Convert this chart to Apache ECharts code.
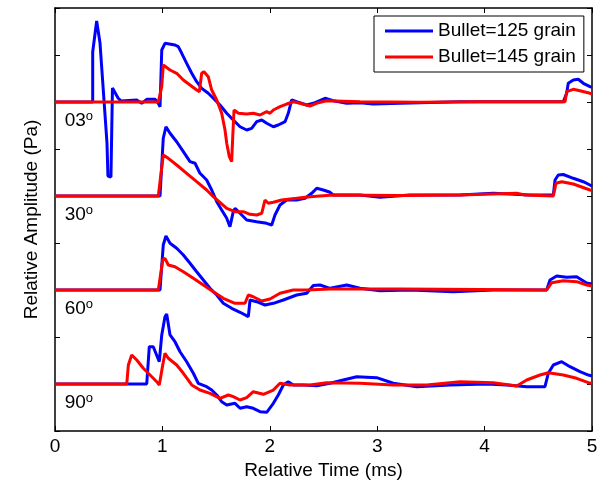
<!DOCTYPE html>
<html>
<head>
<meta charset="utf-8">
<script src="https://cdn.jsdelivr.net/npm/echarts@6/dist/echarts.min.js"></script>
<style>
html,body{margin:0;padding:0;background:#fff;}
#chart{width:600px;height:484px;}
</style>
</head>
<body>
<div id="chart"></div>
<script>
// ---- Data (time in ms, relative amplitude in axis units) ----
const seriesNames = ['Bullet=125 grain', 'Bullet=145 grain'];
const angleLabels = ['03', '30', '60', '90'];
const offsets = [7, 5, 3, 1];
const xTicks = [0, 1, 2, 3, 4, 5];

const blue03 = [[0,0],[0.351,0],[0.351,1.064],[0.388,1.723],[0.419,1.255],[0.456,0.043],[0.484,-0.872],[0.493,-1.574],[0.521,-1.596],[0.535,0.298],[0.587,0.085],[0.615,0.021],[0.761,0.043],[0.807,-0.028],[0.854,0.057],[0.931,0.057],[0.962,-0.028],[0.978,-0.1],[0.994,1.106],[1.024,1.249],[1.040,1.283],[1.117,1.213],[1.148,1.177],[1.180,1.036],[1.226,0.823],[1.273,0.611],[1.319,0.432],[1.366,0.291],[1.427,0.185],[1.474,0.079],[1.536,-0.064],[1.599,-0.240],[1.660,-0.383],[1.723,-0.526],[1.785,-0.596],[1.831,-0.560],[1.878,-0.419],[1.925,-0.383],[1.971,-0.453],[2.033,-0.526],[2.079,-0.489],[2.142,-0.419],[2.172,-0.240],[2.204,0.043],[2.250,0.006],[2.344,-0.064],[2.405,-0.028],[2.514,0.079],[2.591,0.028],[2.716,-0.028],[2.840,-0.015],[2.964,-0.043],[3.212,-0.028],[3.399,-0.015],[3.771,0.006],[4.081,0.006],[4.423,0.006],[4.733,0.006],[4.764,0.185],[4.779,0.398],[4.826,0.468],[4.872,0.483],[4.919,0.398],[4.981,0.326],[5.0,0.32]];
const red03 = [[0,0],[0.962,0.0],[0.994,0.326],[1.008,0.787],[1.024,0.809],[1.071,0.681],[1.133,0.611],[1.195,0.468],[1.257,0.362],[1.319,0.255],[1.344,0.219],[1.366,0.611],[1.387,0.645],[1.427,0.538],[1.459,0.255],[1.506,0.043],[1.552,-0.240],[1.583,-0.596],[1.599,-0.879],[1.623,-1.164],[1.645,-1.270],[1.655,-0.738],[1.667,-0.170],[1.707,-0.240],[1.785,-0.255],[1.846,-0.240],[1.909,-0.277],[1.971,-0.206],[2.002,-0.240],[2.033,-0.170],[2.095,-0.1],[2.157,-0.043],[2.219,0.006],[2.281,-0.028],[2.374,-0.085],[2.452,-0.015],[2.530,0.028],[2.840,0.006],[3.399,-0.006],[3.957,0.006],[4.749,0.006],[4.764,0.219],[4.826,0.270],[4.888,0.240],[4.981,0.185],[5.0,0.17]];

const blue30 = [[0,0],[0.978,0],[0.994,0],[1.008,1.228],[1.033,1.474],[1.071,1.334],[1.133,1.155],[1.195,0.943],[1.257,0.730],[1.304,0.696],[1.350,0.483],[1.412,0.340],[1.459,0.128],[1.506,-0.121],[1.552,-0.298],[1.599,-0.474],[1.629,-0.653],[1.645,-0.687],[1.660,-0.334],[1.676,-0.262],[1.723,-0.368],[1.785,-0.511],[1.878,-0.547],[1.971,-0.581],[2.018,-0.617],[2.048,-0.404],[2.095,-0.191],[2.157,-0.085],[2.250,-0.085],[2.328,-0.049],[2.390,0.057],[2.437,0.164],[2.498,0.128],[2.561,0.079],[2.591,0.021],[2.840,0.021],[3.026,-0.028],[3.305,0.021],[3.771,0.021],[4.081,0.057],[4.423,0.021],[4.640,0.021],[4.656,0.340],[4.686,0.447],[4.733,0.457],[4.826,0.377],[4.919,0.304],[4.981,0.234],[5.0,0.21]];
const red30 = [[0,0],[0.962,0],[0.978,0.021],[1.008,0.872],[1.024,0.909],[1.055,0.802],[1.133,0.660],[1.226,0.483],[1.319,0.304],[1.412,0.128],[1.474,-0.015],[1.536,-0.134],[1.599,-0.262],[1.676,-0.334],[1.753,-0.334],[1.816,-0.389],[1.878,-0.404],[1.925,-0.368],[1.955,-0.085],[1.986,-0.155],[2.033,-0.134],[2.111,-0.085],[2.250,-0.049],[2.374,-0.015],[2.591,0.021],[3.212,0.011],[3.771,0.021],[4.299,0.057],[4.376,0.021],[4.640,0],[4.665,0.270],[4.718,0.304],[4.826,0.255],[4.981,0.128],[5.0,0.117]];

const blue60 = [[0,0],[0.978,0],[0.994,0],[1.008,0.957],[1.033,1.149],[1.071,0.994],[1.133,0.887],[1.195,0.745],[1.257,0.568],[1.319,0.389],[1.381,0.213],[1.443,0.036],[1.506,-0.106],[1.567,-0.283],[1.645,-0.389],[1.723,-0.474],[1.800,-0.568],[1.816,-0.213],[1.878,-0.249],[1.955,-0.319],[2.033,-0.283],[2.126,-0.213],[2.250,-0.106],[2.344,-0.070],[2.405,0.096],[2.467,0.106],[2.561,0.036],[2.716,0.106],[2.840,0.036],[3.026,-0.015],[3.305,0],[3.709,-0.036],[4.081,0],[4.578,0],[4.609,0.213],[4.671,0.298],[4.764,0.270],[4.857,0.283],[4.950,0.149],[5.0,0.13]];
const red60 = [[0,0],[0.962,0],[0.978,0.036],[1.003,0.638],[1.024,0.674],[1.055,0.532],[1.117,0.496],[1.195,0.389],[1.288,0.249],[1.381,0.106],[1.474,-0.036],[1.567,-0.177],[1.676,-0.283],[1.769,-0.283],[1.800,-0.106],[1.846,-0.143],[1.925,-0.234],[2.002,-0.191],[2.095,-0.070],[2.219,0],[2.344,0],[2.561,0.021],[3.212,0.021],[3.957,0.011],[4.578,0],[4.625,0.155],[4.733,0.198],[4.857,0.177],[4.950,0.106],[5.0,0.085]];

const blue90 = [[0,0],[0.854,0],[0.869,0],[0.878,0.794],[0.915,0.794],[0.971,0.474],[0.994,1.043],[1.024,1.432],[1.040,1.489],[1.071,1.043],[1.117,0.900],[1.164,0.687],[1.226,0.474],[1.288,0.228],[1.334,0.015],[1.412,-0.057],[1.459,-0.128],[1.506,-0.234],[1.552,-0.377],[1.599,-0.447],[1.676,-0.411],[1.723,-0.517],[1.785,-0.483],[1.846,-0.517],[1.909,-0.589],[1.971,-0.602],[2.033,-0.411],[2.079,-0.234],[2.126,-0.021],[2.172,0.049],[2.219,-0.021],[2.312,-0.021],[2.437,-0.036],[2.561,0.015],[2.684,0.085],[2.809,0.155],[2.995,0.134],[3.150,0.015],[3.368,-0.057],[3.678,-0.021],[4.020,0],[4.206,-0.021],[4.392,-0.057],[4.562,-0.057],[4.593,0.228],[4.640,0.404],[4.718,0.474],[4.795,0.368],[4.888,0.262],[4.966,0.191],[5.0,0.17]];
const red90 = [[0,0],[0.668,0],[0.683,0.404],[0.714,0.617],[0.761,0.511],[0.822,0.334],[0.885,0.191],[0.947,0.049],[0.971,-0.021],[1.003,0.404],[1.024,0.653],[1.055,0.547],[1.133,0.404],[1.195,0.228],[1.273,-0.021],[1.350,-0.128],[1.443,-0.198],[1.536,-0.304],[1.614,-0.234],[1.660,-0.270],[1.723,-0.340],[1.785,-0.291],[1.846,-0.164],[1.940,-0.219],[2.033,-0.128],[2.095,0.015],[2.188,-0.021],[2.374,-0.021],[2.530,0.028],[2.840,0.015],[3.150,-0.021],[3.461,-0.021],[3.771,0.049],[4.081,0.028],[4.299,-0.043],[4.392,0.085],[4.516,0.191],[4.593,0.240],[4.733,0.191],[4.857,0.121],[4.966,0.028],[5.0,0.01]];

const blueTraces = [blue03, blue30, blue60, blue90];
const redTraces = [red03, red30, red60, red90];
const labelPos = [0.09, -0.39]; // position of angle label relative to trace baseline

// ---- Chart ----
const FONT = '"Liberation Sans", Arial, Helvetica, sans-serif';
const chart = echarts.init(document.getElementById('chart'), null, {renderer: 'canvas'});

function shift(trace, off) { return trace.map(p => [p[0], p[1] + off]); }

const series = [];
blueTraces.forEach((tr, i) => series.push({
  name: seriesNames[0], type: 'line', data: shift(tr, offsets[i]),
  symbol: 'none', lineStyle: {color: '#0000FF', width: 3}, itemStyle: {color: '#0000FF'},
  z: 2, animation: false
}));
redTraces.forEach((tr, i) => series.push({
  name: seriesNames[1], type: 'line', data: shift(tr, offsets[i]),
  symbol: 'none', lineStyle: {color: '#FF0000', width: 3}, itemStyle: {color: '#FF0000'},
  z: 3, animation: false
}));
series.push({
  name: 'angles', type: 'scatter', symbolSize: 0, animation: false, silent: true,
  itemStyle: {opacity: 1, color: '#000'},
  data: angleLabels.map((a, i) => ({value: [labelPos[0], offsets[i] + labelPos[1]], name: a})),
  label: {
    show: true, position: 'right', distance: 0, color: '#000', opacity: 1,
    formatter: p => '{n|' + p.name + '}{s|o}',
    rich: {
      n: {fontSize: 19, fontFamily: FONT, color: '#000', lineHeight: 20},
      s: {fontSize: 13, fontFamily: FONT, color: '#000', lineHeight: 7, verticalAlign: 'top'}
    }
  }
});

const axisLineStyle = {show: true, onZero: false, lineStyle: {color: '#000', width: 1.5}};
const tickStyle = {show: true, inside: true, length: 5, lineStyle: {color: '#000', width: 1}};

chart.setOption({
  backgroundColor: '#fff',
  animation: false,
  grid: {left: 55, right: 8, top: 8, bottom: 53, containLabel: false, outerBoundsMode: 'none'},
  legend: {
    data: seriesNames, orient: 'vertical', left: 374, top: 16,
    padding: [5, 8, 5, 11], itemGap: 6, itemWidth: 48, itemHeight: 3, icon: 'rect',
    borderColor: '#000', borderWidth: 1, backgroundColor: '#fff',
    textStyle: {fontSize: 19, fontFamily: FONT, color: '#000', lineHeight: 20},
    selectedMode: false
  },
  xAxis: [{
    type: 'value', min: 0, max: 5, interval: 1, position: 'bottom',
    axisLine: axisLineStyle, axisTick: tickStyle, splitLine: {show: false},
    axisLabel: {show: true, margin: 6, fontSize: 19, fontFamily: FONT, color: '#000',
      formatter: v => xTicks.includes(v) ? String(v) : ''},
    name: 'Relative Time (ms)', nameLocation: 'middle', nameGap: 29,
    nameTextStyle: {fontSize: 19, fontFamily: FONT, color: '#000'}
  }, {
    type: 'value', min: 0, max: 5, interval: 1, position: 'top',
    axisLine: axisLineStyle, axisTick: tickStyle, splitLine: {show: false},
    axisLabel: {show: false}
  }],
  yAxis: [{
    type: 'value', min: 0, max: 9, interval: 1, position: 'left',
    axisLine: axisLineStyle, axisTick: tickStyle, splitLine: {show: false},
    axisLabel: {show: false},
    name: 'Relative Amplitude (Pa)', nameLocation: 'middle', nameGap: 14,
    nameTextStyle: {fontSize: 19, fontFamily: FONT, color: '#000'}
  }, {
    type: 'value', min: 0, max: 9, interval: 1, position: 'right',
    axisLine: axisLineStyle, axisTick: tickStyle, splitLine: {show: false},
    axisLabel: {show: false}
  }],
  series: series
});
</script>
</body>
</html>
